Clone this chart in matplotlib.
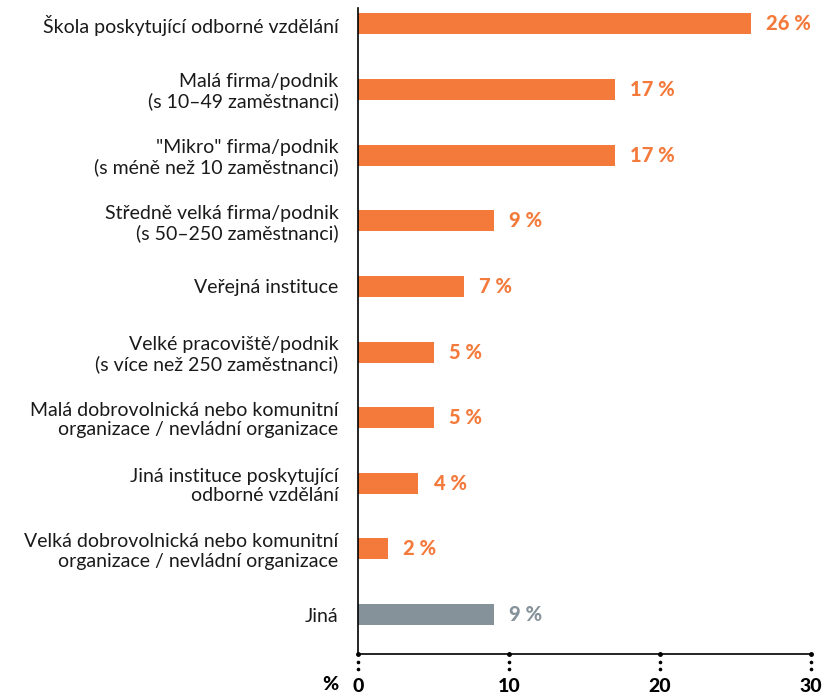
import matplotlib
matplotlib.use("Agg")
import matplotlib.pyplot as plt
import matplotlib.transforms as mtransforms

categories = [
    "Škola poskytující odborné vzdělání",
    "Malá firma/podnik\n(s 10–49 zaměstnanci)",
    "\"Mikro\" firma/podnik\n(s méně než 10 zaměstnanci)",
    "Středně velká firma/podnik\n(s 50–250 zaměstnanci)",
    "Veřejná instituce",
    "Velké pracoviště/podnik\n(s více než 250 zaměstnanci)",
    "Malá dobrovolnická nebo komunitní\norganizace / nevládní organizace",
    "Jiná instituce poskytující\nodborné vzdělání",
    "Velká dobrovolnická nebo komunitní\norganizace / nevládní organizace",
    "Jiná",
]
values = [26, 17, 17, 9, 7, 5, 5, 4, 2, 9]
xticks = [0, 10, 20, 30]

ORANGE = "#f47a3c"
GRAY = "#86929a"
colors = [ORANGE] * 9 + [GRAY]

plt.rcParams['font.family'] = ['Lato', 'DejaVu Sans']

fig = plt.figure(figsize=(8.23, 6.93), dpi=100)
ax = fig.add_axes([358/823, 1-654/693, (811-358)/823, (654-8)/693])

ys = list(range(len(categories)))
ax.barh(ys, values, height=0.32, color=colors)
ax.set_xlim(0, 30)
ax.set_ylim(9.6, -0.24)

for y, v, c in zip(ys, values, colors):
    ax.annotate(f"{v} %", (v, y), xytext=(11, 0), textcoords="offset points",
                ha="left", va="center", color=c, fontsize=14.5, fontweight="black")

ax.set_yticks(ys)
ax.set_yticklabels(categories, fontsize=14, color="#1a1a1a", linespacing=1.15)
ax.tick_params(axis="y", length=0, pad=14)
ax.set_xticks(xticks)
ax.set_xticklabels([str(t) for t in xticks], fontsize=14, fontweight="black")
ax.tick_params(axis="x", length=0, pad=17)

for s in ["top", "right"]:
    ax.spines[s].set_visible(False)
ax.spines["left"].set_linewidth(1.2)
ax.spines["bottom"].set_linewidth(1.2)

trans = mtransforms.blended_transform_factory(ax.transData, ax.transAxes)
for t in xticks:
    ax.plot([t], [0], marker="o", ms=2.5, color="black", transform=trans, clip_on=False)
    ax.plot([t, t], [-0.0124, -0.0232], linestyle="none", marker="o", ms=1.6,
            color="black", transform=trans, clip_on=False)

fig.text(330/823, 1-685/693, "%", ha="center", va="center", fontsize=14, fontweight="black")

fig.savefig("out.png", dpi=100)
